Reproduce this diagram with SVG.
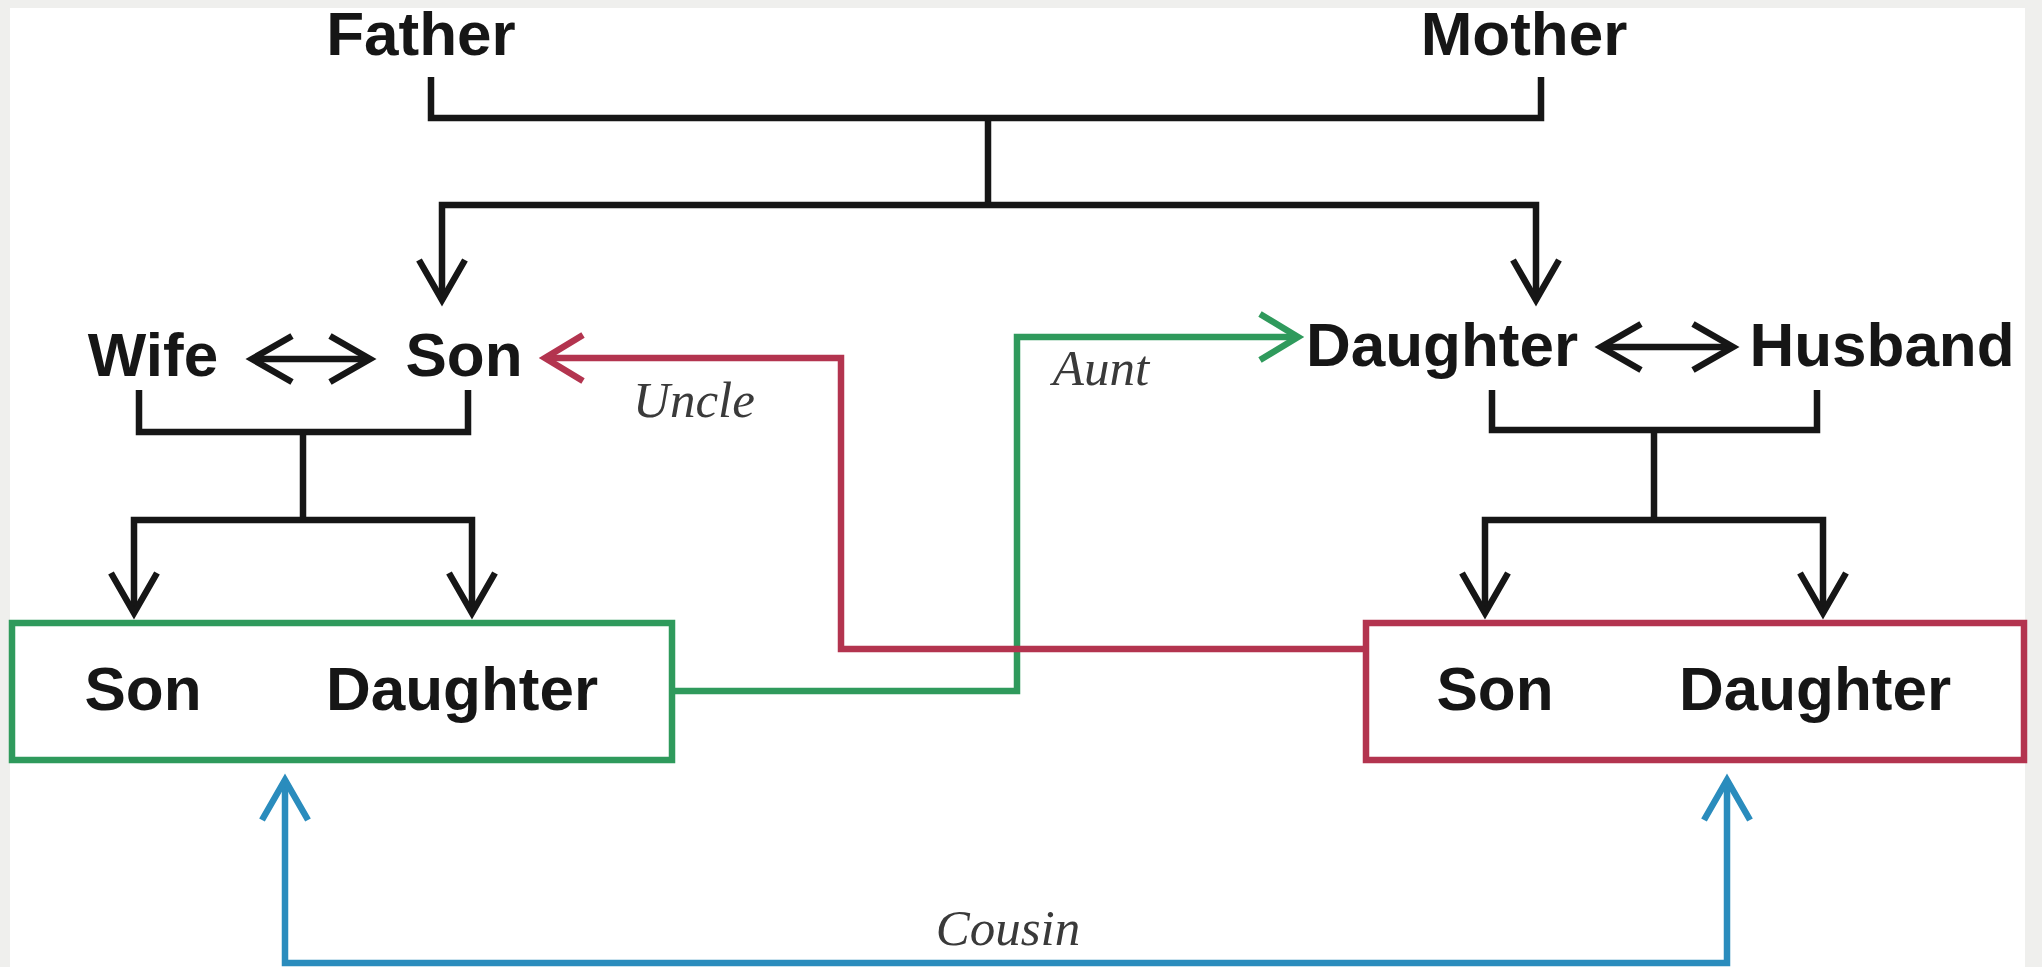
<svg xmlns="http://www.w3.org/2000/svg" width="2042" height="967" viewBox="0 0 2042 967">
<style>
.lbl{font-family:"Liberation Sans",Arial,sans-serif;font-weight:bold;font-size:62px;fill:#161616;text-anchor:middle}
.rel{font-family:"Liberation Serif","Times New Roman",serif;font-style:italic;font-size:51px;fill:#3a3a3a;text-anchor:middle}
.k{fill:none;stroke:#161616;stroke-width:6.5;stroke-linejoin:miter}
.r{fill:none;stroke:#b3344f;stroke-width:6.5}
.g{fill:none;stroke:#2f9a5c;stroke-width:6.5}
.b{fill:none;stroke:#2a8cbd;stroke-width:6.5}
</style>
<defs>
<marker id="ak" markerUnits="userSpaceOnUse" orient="auto-start-reverse" markerWidth="80" markerHeight="80" viewBox="-50 -40 60 80" refX="0" refY="0" overflow="visible"><path d="M-40,-23 L0,0 L-40,23" fill="none" stroke="#161616" stroke-width="6.5"/></marker>
<marker id="ar" markerUnits="userSpaceOnUse" orient="auto-start-reverse" markerWidth="80" markerHeight="80" viewBox="-50 -40 60 80" refX="0" refY="0" overflow="visible"><path d="M-38,-23 L0,0 L-38,23" fill="none" stroke="#b3344f" stroke-width="6.5"/></marker>
<marker id="ag" markerUnits="userSpaceOnUse" orient="auto-start-reverse" markerWidth="80" markerHeight="80" viewBox="-50 -40 60 80" refX="0" refY="0" overflow="visible"><path d="M-38,-23 L0,0 L-38,23" fill="none" stroke="#2f9a5c" stroke-width="6.5"/></marker>
<marker id="ab" markerUnits="userSpaceOnUse" orient="auto-start-reverse" markerWidth="80" markerHeight="80" viewBox="-50 -40 60 80" refX="0" refY="0" overflow="visible"><path d="M-40,-23 L0,0 L-40,23" fill="none" stroke="#2a8cbd" stroke-width="6.5"/></marker>
</defs>
<rect x="0" y="0" width="2042" height="967" fill="#efefed"/>
<rect x="10" y="8" width="2015" height="959" fill="#ffffff"/>

<g id="connectors">
<path class="k" d="M431,77 V118 H1541 V77"/>
<path class="k" d="M988,118 V205"/>
<path class="k" d="M988,205 H442 V300" marker-end="url(#ak)"/>
<path class="k" d="M988,205 H1536 V300" marker-end="url(#ak)"/>
<path class="k" d="M252,359 H370" marker-start="url(#ak)" marker-end="url(#ak)"/>
<path class="k" d="M139,390 V432 H468 V390"/>
<path class="k" d="M303,432 V520"/>
<path class="k" d="M303,520 H134 V613" marker-end="url(#ak)"/>
<path class="k" d="M303,520 H472 V613" marker-end="url(#ak)"/>
<path class="k" d="M1601,347 H1733" marker-start="url(#ak)" marker-end="url(#ak)"/>
<path class="k" d="M1492,390 V430 H1817 V390"/>
<path class="k" d="M1654,430 V520"/>
<path class="k" d="M1654,520 H1485 V613" marker-end="url(#ak)"/>
<path class="k" d="M1654,520 H1823 V613" marker-end="url(#ak)"/>
<path class="g" d="M672,691 H1017 V337 H1298" marker-end="url(#ag)"/>
<path class="r" d="M1366,649 H841 V358 H545" marker-end="url(#ar)"/>
<path class="b" d="M285,780 V963 H1727 V780" marker-start="url(#ab)" marker-end="url(#ab)"/>
<text class="rel" x="694" y="417">Uncle</text>
<text class="rel" x="1101" y="385">Aunt</text>
<text class="rel" x="1008" y="945">Cousin</text>
</g>

<g id="father"><text class="lbl" x="421" y="55">Father</text></g>
<g id="mother"><text class="lbl" x="1524" y="55">Mother</text></g>
<g id="wife"><text class="lbl" x="153" y="376">Wife</text></g>
<g id="son"><text class="lbl" x="464" y="376">Son</text></g>
<g id="daughter"><text class="lbl" x="1442" y="366">Daughter</text></g>
<g id="husband"><text class="lbl" x="1882" y="366">Husband</text></g>
<g id="left-children">
<rect x="12" y="623" width="660" height="137" fill="none" stroke="#2f9a5c" stroke-width="6.5"/>
<text class="lbl" x="143" y="710">Son</text>
<text class="lbl" x="462" y="710">Daughter</text>
</g>
<g id="right-children">
<rect x="1366" y="623" width="658" height="137" fill="none" stroke="#b3344f" stroke-width="6.5"/>
<text class="lbl" x="1495" y="710">Son</text>
<text class="lbl" x="1815" y="710">Daughter</text>
</g>
</svg>
